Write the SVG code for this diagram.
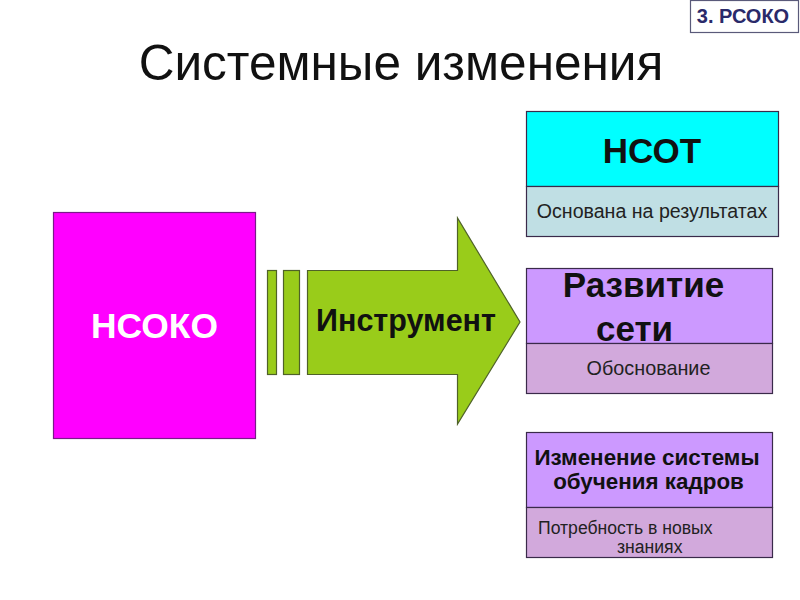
<svg xmlns="http://www.w3.org/2000/svg" width="800" height="600" viewBox="0 0 800 600">
<style>
text{font-family:"Liberation Sans",Arial,sans-serif}
.b{font-weight:bold}
.box{stroke:#3a2a4a;stroke-width:1.2}
.mid{text-anchor:middle}
</style>
<rect width="800" height="600" fill="#fff"/>
<g id="tag">
<rect x="690.5" y="0.5" width="108" height="32" fill="#fff" stroke="#5a5a7a" stroke-width="1.2"/>
<text x="743" y="23" class="b mid" font-size="20" fill="#2a2a6a">3. РСОКО</text>
</g>
<text x="401" y="80" class="mid" font-size="49.5" fill="#111">Системные изменения</text>
<g id="nsoko">
<rect x="53.5" y="212.5" width="202" height="226" fill="#ff00ff" stroke="#7a1a8a" stroke-width="1.2"/>
<text x="154.5" y="338" class="b mid" font-size="35.4" fill="#fff">НСОКО</text>
</g>
<g id="connectors">
<rect x="267.5" y="270.5" width="9" height="104" fill="#99cc1a" stroke="#4f6228" stroke-width="1.2"/>
<rect x="283.5" y="270.5" width="16" height="104" fill="#99cc1a" stroke="#4f6228" stroke-width="1.2"/>
<path d="M307.5 270.5 H457.5 V218 L520 322 L457.5 424 V374.5 H307.5 Z" fill="#99cc1a" stroke="#4f6228" stroke-width="1.2"/>
<text x="406" y="331" class="b mid" font-size="30.5" fill="#111">Инструмент</text>
</g>
<g id="nsot">
<rect x="526.5" y="111.5" width="252" height="75" fill="#00ffff" class="box"/>
<rect x="526.5" y="186.5" width="252" height="50" fill="#c0dfe4" class="box"/>
<text x="652" y="163" class="b mid" font-size="35" fill="#111">НСОТ</text>
<text x="652" y="218" class="mid" font-size="19.6" fill="#222">Основана на результатах</text>
</g>
<g id="razvitie">
<rect x="526.5" y="268.5" width="246" height="75" fill="#cc99ff" class="box"/>
<rect x="526.5" y="343.5" width="246" height="50" fill="#d2a9dc" class="box"/>
<text x="643.5" y="297" class="b mid" font-size="35" fill="#111">Развитие</text>
<text x="634.5" y="341" class="b mid" font-size="35" fill="#111">сети</text>
<text x="648.5" y="375" class="mid" font-size="19.8" fill="#222">Обоснование</text>
</g>
<g id="izmenenie">
<rect x="526.5" y="432.5" width="246" height="75" fill="#cc99ff" class="box"/>
<rect x="526.5" y="507.5" width="246" height="50" fill="#d2a9dc" class="box"/>
<text x="647" y="465" class="b mid" font-size="22.4" fill="#111">Изменение системы</text>
<text x="648.5" y="489" class="b mid" font-size="22.4" fill="#111">обучения кадров</text>
<text x="538" y="534" font-size="17.6" fill="#222">Потребность в новых</text>
<text x="617" y="553" font-size="17.6" fill="#222">знаниях</text>
</g>
</svg>
